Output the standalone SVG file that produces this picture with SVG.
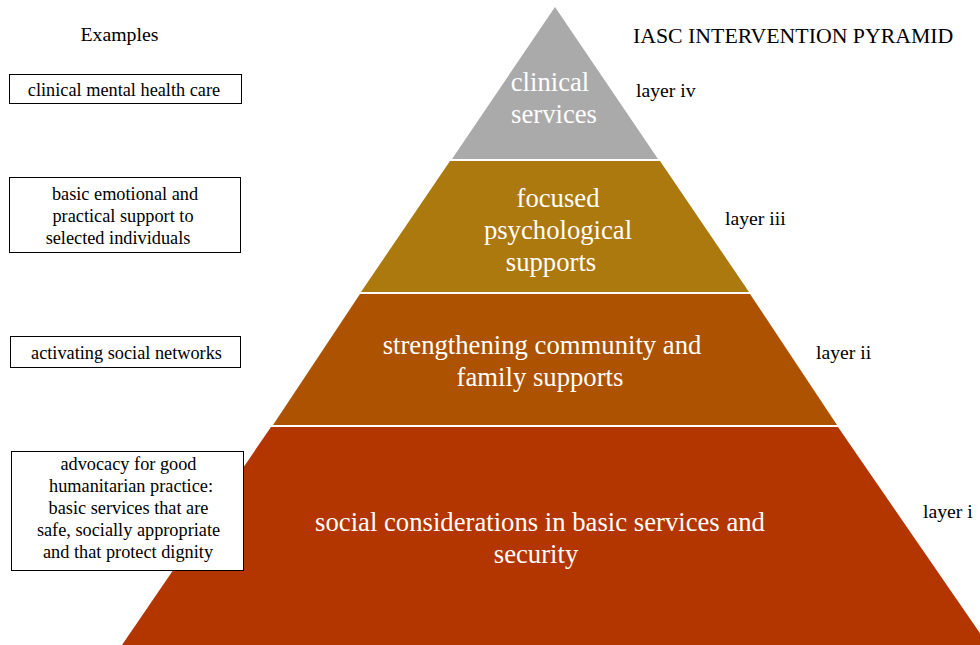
<svg xmlns="http://www.w3.org/2000/svg" width="980" height="645" viewBox="0 0 980 645">
<style>
.t{font-family:"Liberation Serif","Times New Roman",serif;fill:#000}
.s{font-size:18.3px;text-anchor:middle}
.w{font-family:"Liberation Serif","Times New Roman",serif;fill:#fff;font-size:26.7px;text-anchor:middle}
.box{fill:#fff;stroke:#000;stroke-width:1}
.lay{font-size:19.7px}
</style>
<rect width="980" height="645" fill="#fff"/>
<g id="pyramid">
<g id="layer-iv">
<polygon points="555,7 658,159 452,159" fill="#aaaaaa"/>
<text class="w"><tspan x="550" y="91">clinical</tspan><tspan x="554" y="123">services</tspan></text>
</g>
<g id="layer-iii">
<polygon points="450,161 660,161 749,292 361,292" fill="#ac790e"/>
<text class="w"><tspan x="558" y="207">focused</tspan><tspan x="558" y="239">psychological</tspan><tspan x="551" y="271">supports</tspan></text>
</g>
<g id="layer-ii">
<polygon points="360,294 750,294 837,425 273,425" fill="#ac5200"/>
<text class="w"><tspan x="542" y="354">strengthening community and</tspan><tspan x="540" y="386">family supports</tspan></text>
</g>
<g id="layer-i">
<polygon points="271,427 838,427 988,645 122,645" fill="#b33500"/>
<text class="w"><tspan x="540" y="531">social considerations in basic services and</tspan><tspan x="536" y="563">security</tspan></text>
</g>
</g>
<g id="titles">
<text class="t" x="119.5" y="41" font-size="19.8" text-anchor="middle">Examples</text>
<text class="t" x="633" y="43" font-size="21.8">IASC INTERVENTION PYRAMID</text>
<text class="t lay" x="636" y="97">layer iv</text>
<text class="t lay" x="725" y="225">layer iii</text>
<text class="t lay" x="816" y="359">layer ii</text>
<text class="t lay" x="923" y="518">layer i</text>
</g>
<g id="ex-clinical">
<rect class="box" x="9.5" y="74.5" width="232" height="29"/>
<text class="t s" x="124" y="96">clinical mental health care</text>
</g>
<g id="ex-emotional">
<rect class="box" x="9.5" y="177.5" width="231" height="75"/>
<text class="t s"><tspan x="125" y="200">basic emotional and</tspan><tspan x="123" y="222">practical support to</tspan><tspan x="118" y="244">selected individuals</tspan></text>
</g>
<g id="ex-social">
<rect class="box" x="10.5" y="336.5" width="230" height="31"/>
<text class="t s" x="126.5" y="359">activating social networks</text>
</g>
<g id="ex-advocacy">
<rect class="box" x="11.5" y="451.5" width="232" height="119"/>
<text class="t s"><tspan x="128.5" y="470">advocacy for good</tspan><tspan x="131" y="492">humanitarian practice:</tspan><tspan x="128.5" y="514">basic services that are</tspan><tspan x="128.5" y="536">safe, socially appropriate</tspan><tspan x="128" y="558">and that protect dignity</tspan></text>
</g>
<g id="connectors"></g>
</svg>
